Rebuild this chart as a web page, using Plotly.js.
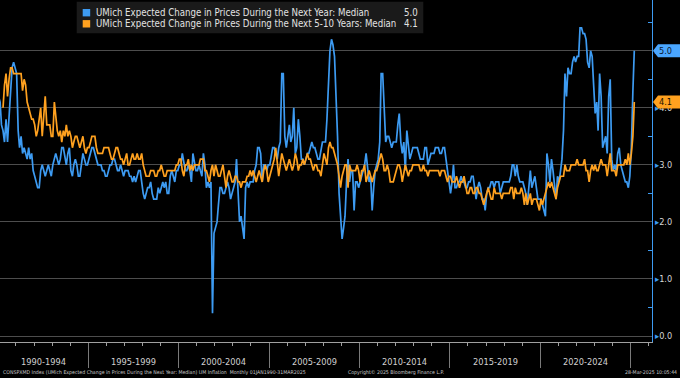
<!DOCTYPE html>
<html><head><meta charset="utf-8">
<script src="https://cdn.plot.ly/plotly-3.0.1.min.js"></script>
<style>html,body{margin:0;padding:0;background:#000;}#chart{width:680px;height:378px;}</style>
</head><body><div id="chart"></div>
<script>
// ---------------- DATA ----------------
const startYear = 1990;   // monthly series, first value = Jan 1990
// UMich expected change in prices during the next year: median (%)
const oneYear = [
  4.2,4.1,3.7,3.6,3.4,3.8,3.4,3.8,4.3,4.7,4.8,4.7, // 1990
  4.6,3.6,3.3,3.5,3.2,3.3,3.2,3.1,3.3,3.1,3.2,2.9, // 1991
  2.8,2.7,2.6,2.6,2.9,3.0,2.9,2.8,2.9,3.0,2.9,2.8, // 1992
  3.0,3.1,3.2,3.1,3.0,3.1,3.3,3.3,3.1,3.0,3.2,3.3, // 1993
  2.9,2.8,3.0,3.1,3.0,2.8,2.8,3.0,3.2,3.1,3.0,3.0, // 1994
  3.1,3.2,3.3,3.3,3.2,3.1,3.0,3.0,3.0,2.9,2.9,2.8, // 1995
  2.8,2.9,3.0,3.0,3.1,3.1,3.0,2.9,2.9,3.0,2.9,2.8, // 1996
  2.9,2.9,2.9,2.8,2.8,2.7,2.8,2.7,2.8,2.9,2.9,2.7, // 1997
  2.5,2.4,2.5,2.6,2.6,2.7,2.5,2.4,2.4,2.4,2.6,2.5, // 1998
  2.6,2.7,2.6,2.7,2.5,2.5,2.8,2.9,2.8,2.7,2.9,2.9, // 1999
  3.0,3.0,3.2,3.0,2.9,2.9,3.0,2.9,2.7,3.2,3.0,2.9, // 2000
  2.9,3.0,2.9,2.8,3.2,3.0,2.6,2.7,2.6,2.7,0.4,1.8, // 2001
  1.9,2.0,2.3,2.6,2.6,2.5,2.5,2.6,2.7,2.6,2.4,2.5, // 2002
  2.6,2.7,3.1,2.4,2.0,2.1,1.9,1.7,2.6,2.7,2.6,2.7, // 2003
  2.7,2.7,2.9,3.0,3.3,3.3,3.2,2.7,3.0,3.0,2.9,3.0, // 2004
  3.0,3.2,3.3,3.3,3.2,3.1,3.3,3.4,4.6,4.6,3.5,3.3, // 2005
  3.5,3.7,3.4,3.5,4.0,3.2,3.3,3.8,3.5,3.1,3.1,3.0, // 2006
  3.1,3.2,3.2,3.3,3.4,3.3,3.3,3.2,3.1,3.1,3.3,3.4, // 2007
  3.4,3.4,3.8,4.4,5.0,5.2,5.1,4.9,4.3,3.5,2.5,2.0, // 2008
  1.7,1.9,2.1,2.7,3.1,2.7,2.9,2.9,2.2,2.7,2.7,2.6, // 2009
  2.7,2.8,2.9,3.0,3.2,2.9,2.7,2.8,2.2,2.6,2.9,3.0, // 2010
  3.1,3.4,4.6,4.6,4.1,3.4,3.5,3.5,3.4,3.3,3.4,3.4, // 2011
  3.4,3.7,3.9,3.4,3.2,3.4,2.9,3.6,3.3,3.1,3.2,3.3, // 2012
  3.3,3.3,3.3,3.2,3.1,3.1,3.1,3.3,3.3,3.0,3.1,3.2, // 2013
  3.2,3.2,3.3,3.3,3.3,3.2,3.2,3.3,3.3,3.1,2.9,2.7, // 2014
  2.5,2.7,3.0,2.6,2.6,2.7,2.7,2.8,2.7,2.7,2.6,2.6, // 2015
  2.7,2.7,2.8,2.8,2.6,2.4,2.6,2.7,2.6,2.4,2.4,2.2, // 2016
  2.5,2.6,2.6,2.7,2.7,2.6,2.7,2.7,2.7,2.5,2.6,2.7, // 2017
  2.7,2.7,2.7,2.7,2.8,3.0,3.0,2.8,3.0,2.8,2.7,2.7, // 2018
  2.7,2.6,2.5,2.3,2.6,2.9,2.6,2.7,2.8,2.6,2.4,2.4, // 2019
  2.4,2.3,2.2,2.1,3.2,3.0,2.7,3.1,2.9,2.7,2.4,2.8, // 2020
  2.7,2.9,3.1,3.6,4.6,4.2,4.7,4.6,4.6,4.8,4.9,4.8, // 2021
  4.9,4.9,5.4,5.4,5.3,5.3,5.2,4.8,4.7,5.0,4.9,4.4, // 2022
  3.9,4.1,3.6,4.6,4.2,3.3,3.4,3.5,3.2,4.2,4.5,3.1, // 2023
  2.9,3.0,2.9,3.2,3.3,3.0,2.9,2.8,2.7,2.7,2.6,2.8, // 2024
  3.3,4.3,5.0                                      // 2025
];
// UMich expected change in prices during the next 5-10 years: median (%)
const fiveTenYear = [
  null,null,null,4.0,4.4,4.6,4.2,4.5,4.7,4.7,4.6,4.6, // 1990
  4.6,4.6,4.6,4.6,4.3,4.5,4.4,4.1,4.0,3.9,3.8,3.8, // 1991
  3.7,3.5,3.6,3.8,4.0,3.5,3.9,4.2,3.7,3.7,3.7,3.5, // 1992
  3.5,4.1,3.8,3.6,3.5,3.6,3.4,3.6,3.5,3.7,3.5,3.6, // 1993
  3.5,3.3,3.4,3.5,3.5,3.4,3.3,3.4,3.5,3.3,3.2,3.3, // 1994
  3.3,3.4,3.5,3.5,3.5,3.3,3.2,3.2,3.2,3.2,3.3,3.3, // 1995
  3.3,3.3,3.2,3.1,3.1,3.2,3.3,3.3,3.2,3.1,3.1,3.0, // 1996
  3.1,3.2,3.0,3.0,3.1,3.2,3.1,3.1,3.2,3.1,3.1,3.2, // 1997
  3.0,2.9,2.8,2.8,2.8,2.9,2.9,2.9,2.8,2.8,2.9,2.9, // 1998
  3.0,2.9,2.8,2.8,2.9,2.9,2.9,2.9,2.9,2.9,3.0,3.0, // 1999
  3.1,3.1,2.9,2.8,3.0,3.0,3.1,2.9,3.0,2.9,3.0,3.0, // 2000
  3.0,3.0,3.1,3.1,3.1,2.9,2.9,2.8,2.7,2.9,3.0,2.8, // 2001
  3.0,2.9,2.8,2.8,2.9,3.0,2.8,2.6,2.8,2.9,2.8,2.7, // 2002
  2.7,2.8,2.8,2.7,2.7,2.6,2.7,2.7,2.7,2.8,2.8,2.9, // 2003
  2.8,2.9,2.8,2.7,2.8,2.9,2.8,2.7,2.9,3.0,2.9,2.7, // 2004
  2.8,2.9,3.0,3.1,3.3,3.0,2.8,3.0,3.2,3.1,3.0,2.9, // 2005
  3.0,3.1,3.0,2.9,3.0,3.2,3.1,2.9,3.0,3.0,3.1,3.0, // 2006
  3.1,3.2,3.1,3.1,3.0,2.9,3.0,3.0,2.9,2.9,2.8,3.0, // 2007
  3.2,3.1,3.0,3.3,3.4,3.3,3.3,3.2,3.1,3.0,2.8,2.6, // 2008
  2.8,2.9,3.0,3.0,2.6,3.0,2.9,2.9,2.9,2.9,3.0,2.9, // 2009
  2.7,2.9,2.9,3.0,2.7,2.8,2.9,2.8,2.7,2.8,2.9,2.9, // 2010
  3.0,3.1,3.2,3.1,2.9,2.9,3.0,2.9,2.7,2.7,2.7,2.8, // 2011
  2.9,3.0,3.0,2.9,2.7,2.9,3.0,2.9,2.8,2.9,2.9,3.0, // 2012
  3.0,3.0,3.0,3.0,2.9,2.9,3.0,2.9,2.9,2.8,2.9,2.9, // 2013
  2.9,2.9,2.9,2.9,2.9,2.8,2.9,2.9,2.9,2.8,2.7,2.8, // 2014
  2.8,2.7,2.7,2.7,2.8,2.7,2.6,2.7,2.7,2.8,2.6,2.5, // 2015
  2.5,2.6,2.6,2.5,2.5,2.6,2.6,2.5,2.5,2.4,2.3,2.4, // 2016
  2.5,2.6,2.5,2.4,2.4,2.6,2.5,2.5,2.5,2.5,2.4,2.5, // 2017
  2.5,2.5,2.5,2.5,2.6,2.6,2.4,2.6,2.5,2.5,2.5,2.6, // 2018
  2.5,2.3,2.5,2.3,2.4,2.5,2.3,2.4,2.4,2.4,2.3,2.2, // 2019
  2.4,2.3,2.4,2.5,2.6,2.7,2.6,2.7,2.6,2.5,2.4,2.6, // 2020
  2.7,2.8,2.8,2.8,3.0,2.9,2.9,2.9,3.0,3.0,3.0,3.0, // 2021
  3.1,3.0,3.0,3.0,3.0,3.1,2.9,2.9,2.7,2.9,3.0,2.9, // 2022
  3.0,2.9,2.9,3.0,3.1,3.0,3.0,3.0,2.8,3.0,3.2,2.9, // 2023
  2.9,2.9,2.8,3.0,3.0,3.0,3.0,3.0,3.1,3.0,3.2,3.0, // 2024
  3.2,3.5,4.1                                      // 2025
];
const seriesNames = [
  'UMich Expected Change in Prices During the Next Year: Median',
  'UMich Expected Change in Prices During the Next 5-10 Years: Median'
];
const periodLabels = ['1990-1994','1995-1999','2000-2004','2005-2009','2010-2014','2015-2019','2020-2024'];
const periodStartYears = [1990,1995,2000,2005,2010,2015,2020];
const separatorYears = [1995,2000,2005,2010,2015,2020,2025];
const yTickValues = [0,1,2,3,4,5];
const footerLeft = 'CONSPXMD Index (UMich Expected Change in Prices During the Next Year: Median) UM Inflation  Monthly 01JAN1990-31MAR2025';
const footerMid = 'Copyright\u00A9 2025 Bloomberg Finance L.P.';
const footerRight = '28-Mar-2025 10:05:44';

// ---------------- FONT FITTING ----------------
const cv = document.createElement('canvas').getContext('2d');
function textW(t, fam, size) { cv.font = size + 'px ' + fam; return cv.measureText(t).width; }
function hasFont(name) {
  const s = 'mmmmmlllii 1990-1994 WWW';
  return ['monospace', 'serif'].some(b => textW(s, '"' + name + '", ' + b, 40) !== textW(s, b, 40));
}
const narrowCands = ['DejaVu Sans Condensed', 'Roboto Condensed', 'Liberation Sans Narrow', 'Arial Narrow', 'Open Sans Condensed', 'Noto Sans Condensed'];
let FONT = '"Liberation Sans", Arial, sans-serif';
for (const f of narrowCands) { if (hasFont(f)) { FONT = '"' + f + '", "Liberation Sans", sans-serif'; break; } }
function fit(t, target, maxSize) { const s = 20 * target / textW(t, FONT, 20); return Math.min(maxSize, Math.round(s * 10) / 10); }

// ---------------- BUILD ----------------
const BLUE = '#3d9bf2', ORANGE = '#ffa11f';
const pad = n => String(n).padStart(2, '0');
const dates = oneYear.map((_, i) => (startYear + Math.floor(i / 12)) + '-' + pad(i % 12 + 1) + '-15');

const W = 652, H = 342;             // plot area in px
const px = x => x / W, py = y => 1 - y / H;

const traces = [
  {x: dates, y: oneYear, type: 'scatter', mode: 'lines', line: {color: BLUE, width: 1.7}, hoverinfo: 'skip'},
  {x: dates, y: fiveTenYear, type: 'scatter', mode: 'lines', line: {color: ORANGE, width: 1.7}, connectgaps: false, hoverinfo: 'skip'}
];

const lastOne = oneYear[oneYear.length - 1];
const lastFive = fiveTenYear[fiveTenYear.length - 1];

const annotations = [];
const shapes = [];

const periodSize = fit(periodLabels[0], 45, 12);
periodLabels.forEach((lab, i) => {
  const y0 = periodStartYears[i];
  annotations.push({text: lab, x: (y0 + 2) + '-07-02', xref: 'x', y: 0, yref: 'paper', yshift: -19.5,
    yanchor: 'middle', xanchor: 'center', showarrow: false, font: {family: FONT, size: periodSize, color: '#d0d0d0'}});
});

// legend box
const legSize = fit(seriesNames[1], 301, 12);
shapes.push({type: 'rect', xref: 'paper', yref: 'paper', x0: px(76.7), x1: px(423.3), y0: py(33.3), y1: py(1.7),
  fillcolor: '#1a1a1a', line: {width: 0}, layer: 'above'});
[[BLUE, 12.7, seriesNames[0], lastOne], [ORANGE, 23.8, seriesNames[1], lastFive]].forEach(([c, yc, name, val]) => {
  shapes.push({type: 'rect', xref: 'paper', yref: 'paper', x0: px(82.7), x1: px(90.2), y0: py(yc + 3.7), y1: py(yc - 3.7),
    fillcolor: c, line: {width: 0}, layer: 'above'});
  annotations.push({text: name, xref: 'paper', x: px(93.5), xanchor: 'left', yref: 'paper', y: py(yc), yanchor: 'middle',
    showarrow: false, font: {family: FONT, size: legSize, color: '#e2e2e2'}});
  annotations.push({text: val.toFixed(1), xref: 'paper', x: px(419.5), xanchor: 'right', yref: 'paper', y: py(yc), yanchor: 'middle',
    showarrow: false, font: {family: FONT, size: legSize, color: '#e2e2e2'}});
});

// value badges on right axis
const tickSize = fit('3.0', 13, 12);
[[lastOne, '#4aa6ff', '#0a1830'], [lastFive, '#ffa11f', '#241300']].forEach(([v, bg, fg]) => {
  shapes.push({type: 'path', xref: 'paper', yref: 'y', xsizemode: 'pixel', ysizemode: 'pixel', xanchor: 1, yanchor: v,
    path: 'M 1 0 L 6 6.5 L 28 6.5 L 28 -6.5 L 6 -6.5 Z', fillcolor: bg, line: {width: 0}, layer: 'above'});
  annotations.push({text: v.toFixed(1), xref: 'paper', x: 1, xshift: 5, xanchor: 'left', yref: 'y', y: v, yanchor: 'middle',
    showarrow: false, font: {family: FONT, size: tickSize, color: fg}});
});

// footer (one common size)
const fy = py(372);
const fSize = fit(footerLeft, 305, 8);
annotations.push({text: footerLeft, xref: 'paper', x: px(1), xanchor: 'left', yref: 'paper', y: fy, yanchor: 'middle', showarrow: false, font: {family: FONT, size: fSize, color: '#c8c8c8'}});
annotations.push({text: footerMid, xref: 'paper', x: px(396), xanchor: 'center', yref: 'paper', y: fy, yanchor: 'middle', showarrow: false, font: {family: FONT, size: fSize, color: '#c8c8c8'}});
annotations.push({text: footerRight, xref: 'paper', x: px(679), xanchor: 'right', yref: 'paper', y: fy, yanchor: 'middle', showarrow: false, font: {family: FONT, size: fSize, color: '#c8c8c8'}});

const yearTicks = [];
for (let y = startYear + 1; y <= 2026; y++) yearTicks.push(y + '-01-01');

const layout = {
  width: 680, height: 378,
  margin: {l: 0, r: 28, t: 0, b: 36, pad: 0},
  paper_bgcolor: '#000', plot_bgcolor: '#000',
  showlegend: false,
  font: {family: FONT, color: '#d8d8d8'},
  xaxis: {
    type: 'date', range: ['1990-02-13', '2026-03-08'],
    showgrid: false, zeroline: false, showline: true, linecolor: '#a0a0a0', linewidth: 1,
    tickmode: 'array', tickvals: separatorYears.map(y => y + '-01-01'), ticks: 'outside', ticklen: 25,
    tickcolor: '#7a7a7a', tickwidth: 1, showticklabels: false,
    minor: {tickmode: 'array', tickvals: yearTicks, ticks: 'outside', ticklen: 3, tickcolor: '#a0a0a0', tickwidth: 1, showgrid: false}
  },
  yaxis: {
    side: 'right', range: [-0.105, 5.889], zeroline: false,
    tickmode: 'array', tickvals: yTickValues,
    ticktext: yTickValues.map(v => '<span style="color:' + BLUE + '">\u25B8</span>' + v.toFixed(1)),
    ticks: '', showgrid: true, gridcolor: '#4d4d4d', gridwidth: 1,
    showline: true, linecolor: BLUE, linewidth: 1.2,
    tickfont: {family: FONT, size: tickSize, color: '#d8d8d8'}, ticklabelstandoff: 0,
    minor: {tickmode: 'array', tickvals: [0.5,1.5,2.5,3.5,4.5,5.5], ticks: 'inside', ticklen: 4, tickcolor: BLUE, tickwidth: 1, showgrid: false}
  },
  annotations, shapes
};

Plotly.newPlot('chart', traces, layout, {staticPlot: true, displayModeBar: false});
</script>
</body></html>
